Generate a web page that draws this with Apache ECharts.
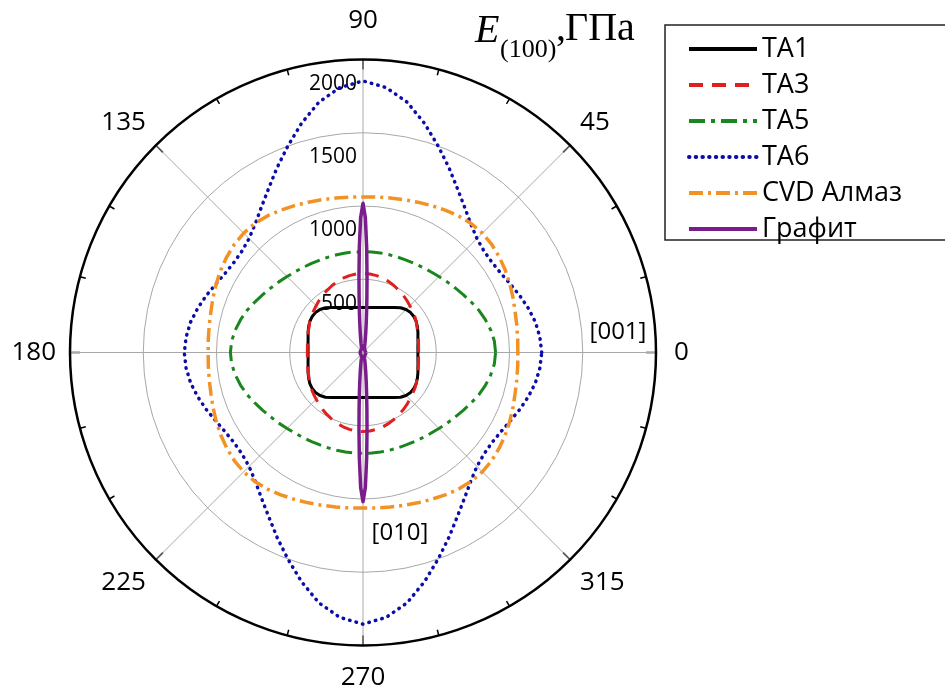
<!DOCTYPE html>
<html>
<head>
<meta charset="utf-8">
<script src="https://cdn.jsdelivr.net/npm/echarts@6/dist/echarts.min.js"></script>
<style>
  html, body { margin: 0; padding: 0; background: #ffffff; }
  #chart { width: 945px; height: 689px; }
</style>
</head>
<body>
<div id="chart"></div>
<script>
// Direction in the (100) plane, degrees (0 = [001], 90 = [010])
const angles = [
  0, 5, 10, 15, 20, 25, 30, 35, 40, 45, 50, 55, 60, 65, 70, 75, 80, 85, 90,
  95, 100, 105, 110, 115, 120, 125, 130, 135, 140, 145, 150, 155, 160, 165, 170, 175, 180,
  185, 190, 195, 200, 205, 210, 215, 220, 225, 230, 235, 240, 245, 250, 255, 260, 265, 270,
  275, 280, 285, 290, 295, 300, 305, 310, 315, 320, 325, 330, 335, 340, 345, 350, 355, 360
];

// Young's modulus E(100), GPa
const ta1 = [
  375, 376, 381, 388, 399, 410, 420, 425, 424, 415, 399, 374, 354, 338, 327, 318, 312, 308, 307,
  308, 312, 318, 327, 338, 354, 374, 399, 415, 424, 425, 420, 410, 399, 388, 381, 376, 375,
  376, 381, 388, 399, 410, 420, 425, 424, 415, 399, 374, 354, 338, 327, 318, 312, 308, 307,
  308, 312, 318, 327, 338, 354, 374, 399, 415, 424, 425, 420, 410, 399, 388, 381, 376, 375
];
const ta3 = [
  380, 381, 385, 391, 398, 407, 420, 431, 441, 452, 465, 478, 490, 503, 515, 525, 533, 538, 540,
  538, 533, 525, 515, 503, 490, 478, 465, 452, 441, 431, 420, 407, 398, 391, 385, 381, 380,
  381, 385, 391, 398, 407, 420, 431, 441, 452, 465, 478, 490, 503, 515, 525, 533, 538, 540,
  538, 533, 525, 515, 503, 490, 478, 465, 452, 441, 431, 420, 407, 398, 391, 385, 381, 380
];
const ta5 = [
  905, 900, 885, 865, 842, 815, 790, 768, 750, 733, 720, 710, 702, 696, 693, 691, 690, 689, 688,
  689, 690, 691, 693, 696, 702, 710, 720, 733, 750, 768, 790, 815, 842, 865, 885, 900, 905,
  900, 885, 865, 842, 815, 790, 768, 750, 733, 720, 710, 702, 696, 693, 691, 690, 689, 688,
  689, 690, 691, 693, 696, 702, 710, 720, 733, 750, 768, 790, 815, 842, 865, 885, 900, 905
];
const ta6 = [
  1220, 1212, 1195, 1168, 1138, 1108, 1085, 1074, 1078, 1100, 1145, 1210, 1290, 1390, 1500, 1620, 1735, 1815, 1854,
  1815, 1735, 1620, 1500, 1390, 1290, 1210, 1145, 1100, 1078, 1074, 1085, 1108, 1138, 1168, 1195, 1212, 1220,
  1212, 1195, 1168, 1138, 1108, 1085, 1074, 1078, 1100, 1145, 1210, 1290, 1390, 1500, 1620, 1735, 1815, 1854,
  1815, 1735, 1620, 1500, 1390, 1290, 1210, 1145, 1100, 1078, 1074, 1085, 1108, 1138, 1168, 1195, 1212, 1220
];
const cvd = [
  1057, 1060, 1066, 1075, 1090, 1106, 1122, 1136, 1147, 1152, 1149, 1138, 1122, 1106, 1092, 1080, 1071, 1065, 1062,
  1065, 1071, 1080, 1092, 1106, 1122, 1138, 1149, 1152, 1147, 1136, 1122, 1106, 1090, 1075, 1066, 1060, 1057,
  1060, 1066, 1075, 1090, 1106, 1122, 1136, 1147, 1152, 1149, 1138, 1122, 1106, 1092, 1080, 1071, 1065, 1062,
  1065, 1071, 1080, 1092, 1106, 1122, 1138, 1149, 1152, 1147, 1136, 1122, 1106, 1090, 1075, 1066, 1060, 1057
];

// Graphite: sharp lobes along [010], sampled more densely near the peaks
const graphiteAngles = [
  0, 20, 40, 60, 70, 75, 78, 80, 82, 84, 85, 86, 87, 88, 89, 90,
  91, 92, 93, 94, 95, 96, 98, 100, 102, 105, 110, 120, 140, 160, 180,
  200, 220, 240, 250, 255, 258, 260, 262, 264, 265, 266, 267, 268, 269, 270,
  271, 272, 273, 274, 275, 276, 278, 280, 282, 285, 290, 300, 320, 340, 360
];
const graphite = [
  20, 20, 20, 22, 28, 42, 65, 89, 135, 215, 282, 381, 525, 718, 921, 1018,
  921, 718, 525, 381, 282, 215, 135, 89, 65, 42, 28, 22, 20, 20, 20,
  20, 20, 22, 28, 42, 65, 89, 135, 215, 282, 381, 525, 718, 921, 1018,
  921, 718, 525, 381, 282, 215, 135, 89, 65, 42, 28, 22, 20, 20, 20
];

const seriesNames = ['TA1', 'TA3', 'TA5', 'TA6', 'CVD Алмаз', 'Графит'];
const angleTickLabels = ['90', '135', '180', '225', '270', '315', '0', '45'];

// The angle axis starts at the top (90°) so the radius scale runs up the [010] line;
// directions below 90° are carried onto the 360..450 part of the axis.
const toAxisAngle = a => (a < 90 ? a + 360 : a);
const pairs = (rs, as) => rs.map((r, i) => [r, toAxisAngle(as[i])]);

const FONT = "'Open Sans', 'DejaVu Sans', sans-serif";
const SERIF = "'Liberation Serif', 'DejaVu Serif', serif";

function lineSeries(name, rs, as, color, width, type, cap) {
  return {
    name: name,
    type: 'line',
    coordinateSystem: 'polar',
    data: pairs(rs, as),
    showSymbol: false,
    symbol: 'none',
    silent: true,
    lineStyle: { color: color, width: width, type: type, cap: cap || 'butt', join: 'round' },
    itemStyle: { color: color }
  };
}

const chart = echarts.init(document.getElementById('chart'), null, { renderer: 'canvas' });

chart.setOption({
  animation: false,
  backgroundColor: '#ffffff',
  polar: { center: [363, 352.5], radius: 293 },
  angleAxis: {
    type: 'value',
    min: 90,
    max: 450,
    interval: 45,
    startAngle: 90,
    clockwise: false,
    axisLine: { show: true, lineStyle: { color: '#000', width: 2.5 } },
    axisTick: { show: true, inside: true, length: 10, lineStyle: { color: '#000', width: 1.5 } },
    minorTick: { show: true, splitNumber: 3, length: 6, lineStyle: { color: '#000', width: 1.5 } },
    axisLabel: {
      show: true,
      margin: 14,
      color: '#000',
      fontFamily: FONT,
      fontSize: 26,
      formatter: v => {
        const k = Math.round((v - 90) / 45);
        if (k < 0 || k >= angleTickLabels.length) return '';
        if (k === 0) return '{up|' + angleTickLabels[k] + '}';
        if (k === 4) return '{down|' + angleTickLabels[k] + '}';
        if (k === 6) return '{right|' + angleTickLabels[k] + '}';
        return angleTickLabels[k];
      },
      rich: {
        up: { fontFamily: FONT, fontSize: 26, color: '#000', padding: [0, 0, 12, 0] },
        down: { fontFamily: FONT, fontSize: 26, color: '#000', padding: [5, 0, 0, 0] },
        right: { fontFamily: FONT, fontSize: 26, color: '#000', padding: [0, 0, 0, 4] }
      }
    },
    splitLine: { show: true, lineStyle: { color: '#a8a8a8', width: 1 } },
    minorSplitLine: { show: false }
  },
  radiusAxis: {
    type: 'value',
    min: 0,
    max: 2000,
    interval: 500,
    axisLine: { show: false },
    axisTick: { show: false },
    axisLabel: {
      show: true,
      color: '#000',
      fontFamily: FONT,
      fontSize: 21,
      margin: 6,
      align: 'right',
      verticalAlign: 'top',
      padding: [14, 0, 0, 0],
      formatter: v => (v === 0 ? '' : String(v))
    },
    splitLine: { show: true, lineStyle: { color: '#a8a8a8', width: 1 } }
  },
  legend: {
    orient: 'vertical',
    left: 682,
    top: 29,
    itemWidth: 68,
    itemHeight: 14,
    itemGap: 6,
    selectedMode: false,
    data: seriesNames,
    itemStyle: { opacity: 0 },
    lineStyle: { width: 4 },
    textStyle: { color: '#000', fontFamily: FONT, fontSize: 27, lineHeight: 30 }
  },
  graphic: [
    {
      type: 'rect', silent: true, z: 0,
      shape: { x: 665, y: 25, width: 300, height: 215 },
      style: { fill: '#fff', stroke: '#222', lineWidth: 1.5 }
    },
    {
      type: 'text', silent: true, x: 475, y: 31,
      style: { text: 'E', fill: '#000', font: "italic 40px " + SERIF, verticalAlign: 'middle', align: 'left' }
    },
    {
      type: 'text', silent: true, x: 500, y: 50,
      style: { text: '(100)', fill: '#000', font: "26px " + SERIF, verticalAlign: 'middle', align: 'left' }
    },
    {
      type: 'text', silent: true, x: 556, y: 29,
      style: { text: ',', fill: '#000', font: "40px " + SERIF, verticalAlign: 'middle', align: 'left' }
    },
    {
      type: 'text', silent: true, x: 565, y: 29,
      style: { text: 'ГПа', fill: '#000', font: "40px " + SERIF, verticalAlign: 'middle', align: 'left' }
    },
    {
      type: 'text', silent: true, x: 618, y: 332,
      style: { text: '[001]', fill: '#000', font: "24px " + FONT, verticalAlign: 'middle', align: 'center' }
    },
    {
      type: 'text', silent: true, x: 400, y: 533,
      style: { text: '[010]', fill: '#000', font: "24px " + FONT, verticalAlign: 'middle', align: 'center' }
    }
  ],
  series: [
    lineSeries(seriesNames[0], ta1, angles, '#000000', 3, 'solid'),
    lineSeries(seriesNames[1], ta3, angles, '#e0201c', 3, [14, 9]),
    lineSeries(seriesNames[2], ta5, angles, '#1a861e', 3, [16, 6, 4, 6]),
    lineSeries(seriesNames[3], ta6, angles, '#0c0ca8', 3.5, [0.5, 6.2], 'round'),
    lineSeries(seriesNames[4], cvd, angles, '#f39224', 3.5, [14, 5, 3, 5]),
    lineSeries(seriesNames[5], graphite, graphiteAngles, '#7b1c8c', 3.5, 'solid')
  ]
});
</script>
</body>
</html>
